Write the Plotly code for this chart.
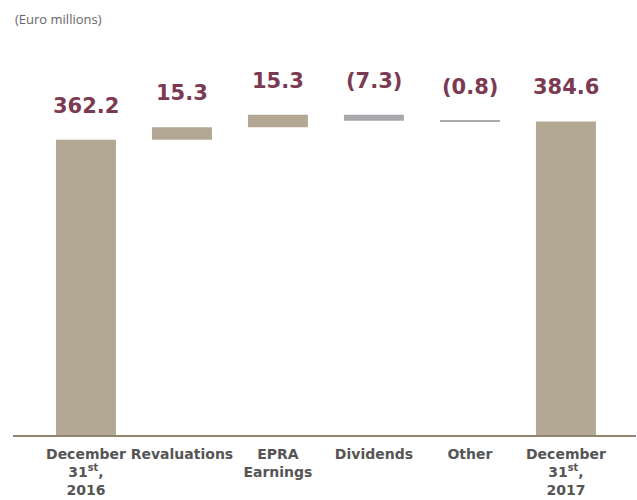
import plotly.graph_objects as go

# Net asset bridge, Euro millions
categories = ["December<br>31<sup>st</sup>,<br>2016", "Revaluations", "EPRA<br>Earnings",
              "Dividends", "Other", "December<br>31<sup>st</sup>,<br>2017"]
values = [362.2, 15.3, 15.3, -7.3, -0.8, 384.6]
measures = ["absolute", "relative", "relative", "relative", "relative", "absolute"]
value_labels = ["362.2", "15.3", "15.3", "(7.3)", "(0.8)", "384.6"]

TAN = "#b3a893"
GREY = "#a9a9ad"
MAROON = "#7b3a52"

x_idx = list(range(len(categories)))

fig = go.Figure(go.Waterfall(
    x=x_idx,
    y=values,
    measure=measures,
    width=0.625,
    increasing=dict(marker=dict(color=TAN)),
    decreasing=dict(marker=dict(color=GREY)),
    totals=dict(marker=dict(color=TAN)),
    connector=dict(visible=False),
    hoverinfo="skip",
))

# value labels above each bar's upper edge
running = 0.0
for i, (v, m, lab) in enumerate(zip(values, measures, value_labels)):
    if m == "absolute":
        top = v
        running = v
    else:
        top = max(running, running + v)
        running += v
    fig.add_annotation(x=i, y=top, text=lab, showarrow=False, yanchor="bottom",
                       yshift=20, font=dict(family="DejaVu Sans", size=21,
                                            color=MAROON, weight="bold"))

fig.add_annotation(xref="paper", yref="paper", x=0, y=1, xanchor="left", yanchor="top",
                   text="(Euro millions)", showarrow=False, yshift=52,
                   font=dict(family="Open Sans", size=13, color="#666666"))

fig.update_layout(
    width=637, height=500,
    margin=dict(l=13, r=1, t=60, b=65),
    plot_bgcolor="white", paper_bgcolor="white",
    showlegend=False,
    xaxis=dict(
        tickmode="array", tickvals=x_idx, ticktext=categories,
        range=[-0.76, 5.73], showgrid=False, zeroline=False,
        showline=True, linecolor="#8f846d", linewidth=2,
        ticks="", ticklabelstandoff=5,
        tickfont=dict(family="DejaVu Sans", size=14, color="#555555", weight="bold"),
    ),
    yaxis=dict(range=[0, 460], visible=False, showgrid=False, zeroline=False),
)

fig.write_html("out.html")
